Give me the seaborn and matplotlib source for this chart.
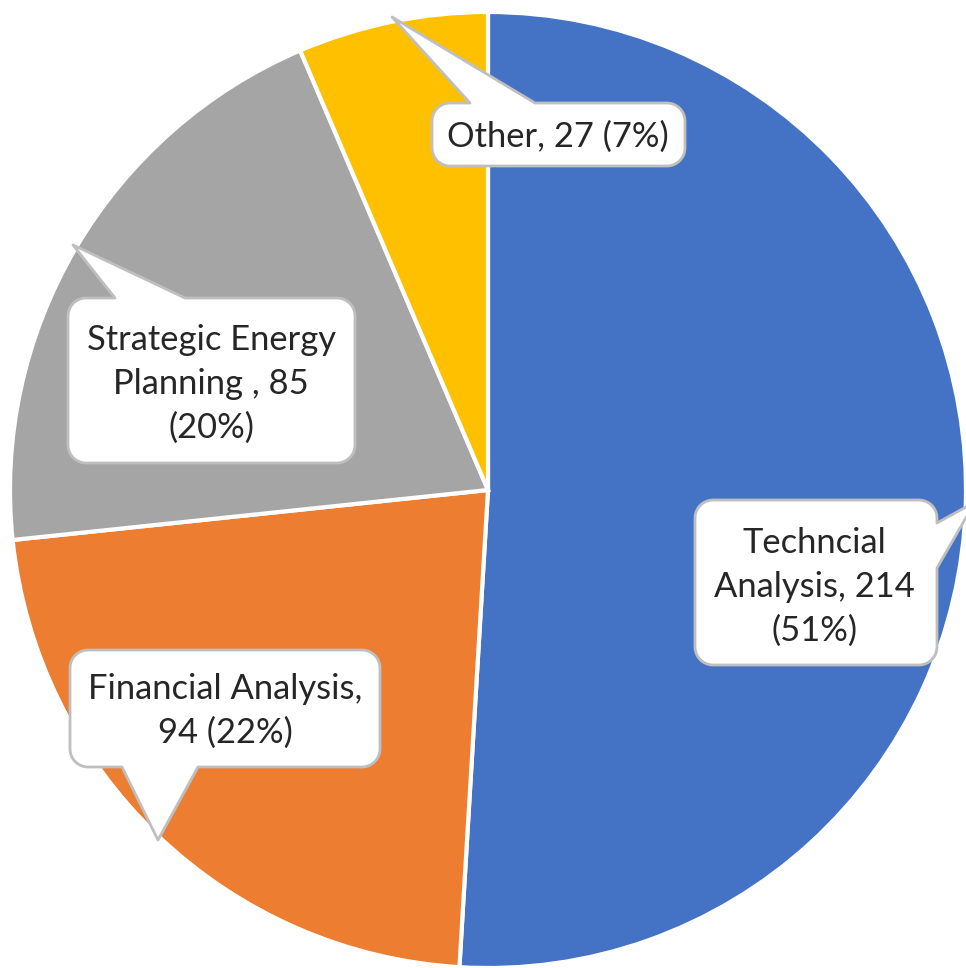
import numpy as np
import matplotlib
matplotlib.use("Agg")
import matplotlib.pyplot as plt
from matplotlib.patches import Polygon
import seaborn as sns

# ---- data ----
categories = ["Techncial\nAnalysis", "Financial Analysis", "Strategic Energy\nPlanning ", "Other"]
values = [214, 94, 85, 27]
labels = ["Techncial\nAnalysis, 214\n(51%)",
          "Financial Analysis,\n94 (22%)",
          "Strategic Energy\nPlanning , 85\n(20%)",
          "Other, 27 (7%)"]
colors = ["#4472C4", "#ED7D31", "#A5A5A5", "#FFC000"]

sns.set_theme(style="white")
plt.rcParams["font.family"] = ["Lato", "DejaVu Sans"]

W, H = 966, 968
CX, CY, R = 488, 490, 478  # pie center / radius in pixels

fig = plt.figure(figsize=(W / 100, H / 100), dpi=100)
ax = fig.add_axes([0, 0, 1, 1])
ax.pie(values, colors=colors, startangle=90, counterclock=False, radius=1.0,
       wedgeprops=dict(edgecolor="white", linewidth=3))
ax.set_xlim(-CX / R, (W - CX) / R)
ax.set_ylim(-(H - CY) / R, CY / R)
ax.set_aspect("auto")
ax.axis("off")


def P(px, py):
    return ((px - CX) / R, (CY - py) / R)


def arc(cx, cy, r, a0, a1, n=10):
    return [(cx + r * np.cos(np.radians(a)), cy + r * np.sin(np.radians(a)))
            for a in np.linspace(a0, a1, n)]


def callout(x0, y0, x1, y1, side, t1, t2, tip, r=18):
    pts = [(x0 + r, y0)]
    if side == "top":
        pts += [(t1, y0), tip, (t2, y0)]
    pts += [(x1 - r, y0)]
    pts += arc(x1 - r, y0 + r, r, -90, 0)
    if side == "right":
        pts += [(x1, t1), tip, (x1, t2)]
    pts += arc(x1 - r, y1 - r, r, 0, 90)
    if side == "bottom":
        pts += [(t2, y1), tip, (t1, y1)]
    pts += arc(x0 + r, y1 - r, r, 90, 180)
    pts += arc(x0 + r, y0 + r, r, 180, 270)
    poly = Polygon([P(*p) for p in pts], closed=True, facecolor="white",
                   edgecolor="#BFBFBF", linewidth=2, joinstyle="round", zorder=5)
    ax.add_patch(poly)


layout = [
    dict(box=(695, 500, 937, 665), side="right", t=(523, 568), tip=(975, 502), c=(814, 587)),
    dict(box=(70, 650, 380, 767), side="bottom", t=(122, 198), tip=(158, 840), c=(225, 711)),
    dict(box=(68, 298, 355, 463), side="top", t=(115, 185), tip=(73, 245), c=(211, 384)),
    dict(box=(432, 103, 685, 166), side="top", t=(470, 535), tip=(392, 17), c=(558, 137)),
]

for lab, L in zip(labels, layout):
    x0, y0, x1, y1 = L["box"]
    callout(x0, y0, x1, y1, L["side"], L["t"][0], L["t"][1], L["tip"])
    ax.text(*P(*L["c"]), lab, ha="center", va="center", fontsize=24.8,
            color="#262626", linespacing=1.45, zorder=6)

fig.savefig("out.png", dpi=100, facecolor="white")
